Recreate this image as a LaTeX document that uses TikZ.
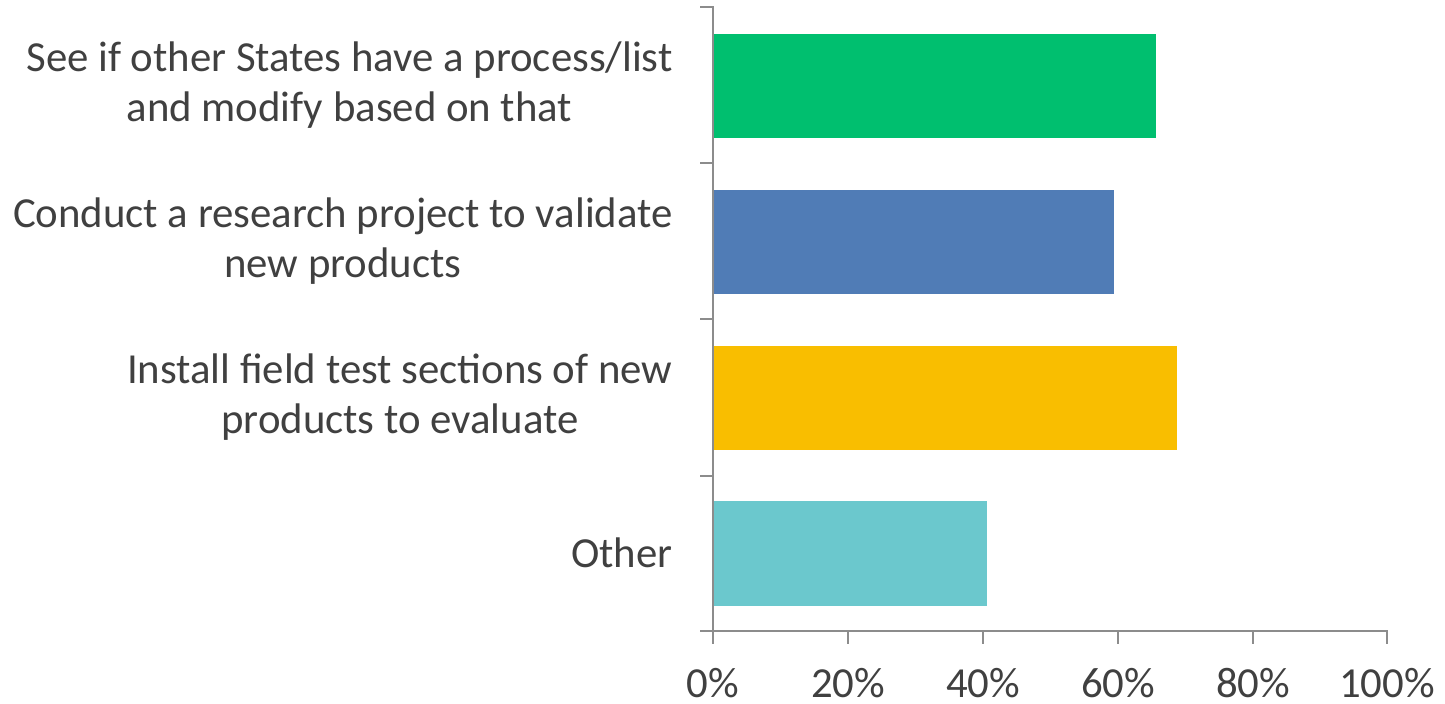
\documentclass[tikz,border=0pt]{standalone}
\usepackage{fontspec}
\setmainfont{Carlito}
\usepackage{xcolor}
\usepackage{tikz}
\usetikzlibrary{positioning, calc}

\definecolor{axisgray}{HTML}{8C8C8C}
\definecolor{labelgray}{HTML}{404040}
\definecolor{bargreen}{HTML}{00BF6F}
\definecolor{barblue}{HTML}{507CB6}
\definecolor{baryellow}{HTML}{F9BE00}
\definecolor{barcyan}{HTML}{6BC8CD}

\begin{document}
\begin{tikzpicture}[x=0.5pt, y=-0.5pt,
    catlabel/.style={anchor=east, align=center, inner sep=0pt, text=labelgray,
        font=\fontsize{21.4}{25}\selectfont},
    ticklabel/.style={anchor=base, inner sep=0pt, text=labelgray,
        font=\fontsize{21.4}{25}\selectfont},
    axisline/.style={draw=axisgray, line width=1pt}]
    \useasboundingbox (0,0) rectangle (1445,703);

    % Bars
    \fill[bargreen] (713,34) rectangle (1156,138);
    \fill[barblue] (713,190) rectangle (1114,294);
    \fill[baryellow] (713,346) rectangle (1177,450);
    \fill[barcyan] (713,501) rectangle (987,606);

    % Axes
    \draw[axisline] (700,7) -- (713,7) -- (713,631) -- (1387,631) -- (1387,644);
    \foreach \y in {163,319,476,631}
        \draw[axisline] (700,\y) -- (713,\y);
    \foreach \x in {713,848,983,1118,1253}
        \draw[axisline] (\x,631) -- (\x,644);

    % Category labels
    \node[catlabel] (lblstates) at (673,85) {See if other States have a process/list\\and modify based on that};
    \node[catlabel] (lblresearch) at (673,241) {Conduct a research project to validate\\new products};
    \node[catlabel] (lblfield) at (673,397) {Install field test sections of new\\products to evaluate};
    \node[catlabel] (lblother) at (673,553) {Other};

    % Tick labels
    \node[ticklabel] (pct0) at (713,697) {0\%};
    \node[ticklabel] (pct20) at (848,697) {20\%};
    \node[ticklabel] (pct40) at (983,697) {40\%};
    \node[ticklabel] (pct60) at (1118,697) {60\%};
    \node[ticklabel] (pct80) at (1253,697) {80\%};
    \node[ticklabel] (pct100) at (1387,697) {100\%};
\end{tikzpicture}
\end{document}
